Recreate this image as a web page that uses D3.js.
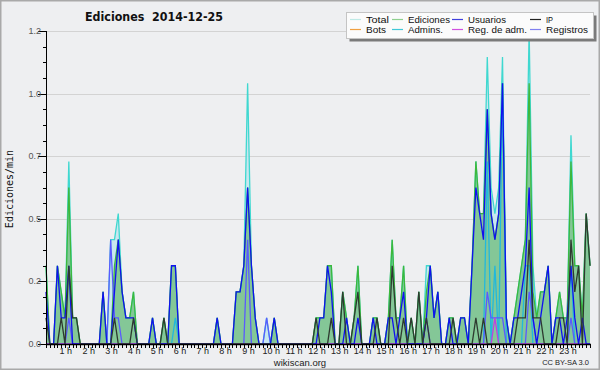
<!DOCTYPE html>
<html><head><meta charset="utf-8">
<script src="https://cdn.jsdelivr.net/npm/d3@7"></script>
<style>body{margin:0;background:#fff}svg{display:block}</style>
</head><body><svg id="c" width="600" height="370"></svg>
<script>
// ---- data (edits per minute, 10-minute bins, 144 slots) ----
const title = "Ediciones  2014-12-25";
const yLabel = "Ediciones/min";
const hourLabels = ["1 h","2 h","3 h","4 h","5 h","6 h","7 h","8 h","9 h","10 h","11 h","12 h","13 h","14 h","15 h","16 h","17 h","18 h","19 h","20 h","21 h","22 h","23 h"];
const hourValues = [1,2,3,4,5,6,7,8,9,10,11,12,13,14,15,16,17,18,19,20,21,22,23];
const yTickValues = [0,0.24,0.48,0.72,0.96,1.2];
const yMax = 1.2;

const total = [
.3,0,0,.3,.2,.1,.7,.1,.1,0,0,0,
0,0,0,.2,0,.4,.4,.5,.2,.1,.1,.2,
0,0,0,0,.1,0,0,.1,0,.3,.3,0,
0,0,0,0,0,0,0,0,0,.1,0,0,
0,0,.2,.2,.3,1.0,.3,.1,0,0,.1,0,
.1,0,0,0,0,0,0,0,0,0,0,.1,
.1,.1,.3,.3,0,0,.2,.1,0,.1,.3,0,
0,0,.1,.1,0,0,.1,.4,.1,.1,.3,0,
.1,0,.2,0,.3,.3,.1,.2,0,0,.1,.1,
0,.1,.1,0,.3,.7,.5,.5,1.1,.6,.5,.6,
1.1,.1,0,.1,.2,.3,.4,1.2,.3,.1,.2,.2,
.3,0,.1,.2,.1,.1,.8,.3,.3,.1,.5,.3];
const ediciones = [
.3,0,0,.3,.2,.1,.6,.1,.1,0,0,0,
0,0,0,.2,0,0,.3,.4,.2,.1,.1,.2,
0,0,0,0,.1,0,0,.1,0,.3,.3,0,
0,0,0,0,0,0,0,0,0,.1,0,0,
0,0,.2,.2,.3,.6,.3,.1,0,0,0,0,
.1,0,0,0,0,0,0,0,0,0,0,.1,
.1,.1,.3,.3,0,0,.2,.1,0,.1,.3,0,
0,0,.1,.1,0,0,.1,.4,.1,.1,.3,0,
.1,0,.2,0,.2,.3,.1,.2,0,0,.1,.1,
0,.1,.1,0,.3,.7,.5,.5,.9,.5,.4,.5,
1.0,.1,0,.1,.2,.3,.4,1.0,.2,.1,.2,.2,
.3,0,.1,.2,.1,.1,.7,.3,.3,.1,.5,.3];
const usuarios = [
.2,0,0,.3,.1,.1,.3,0,0,0,0,0,
0,0,0,.2,0,0,.2,.4,.2,.1,.1,.1,
0,0,0,0,.1,0,0,0,0,.3,.3,0,
0,0,0,0,0,0,0,0,0,.1,0,0,
0,0,.2,.2,.3,.6,.3,.1,0,0,0,0,
.1,0,0,0,0,0,0,0,0,0,0,0,
.1,.1,.3,.2,0,0,0,.1,0,0,.1,0,
0,0,.1,0,0,0,.1,.1,0,.1,.2,0,
0,0,0,0,.1,.3,.1,.2,0,0,.1,0,
0,.1,.1,0,.3,.6,.5,.4,.9,.5,.4,.5,
1.0,.1,0,.1,.1,.2,.3,.6,.1,0,.1,.2,
.3,0,.1,.1,0,.1,.3,.1,0,.1,0,0];
const ip = [
.1,0,0,0,.1,0,.3,.1,.1,0,0,0,
0,0,0,0,0,0,.1,0,0,0,0,.1,
0,0,0,0,0,0,0,.1,0,0,0,0,
0,0,0,0,0,0,0,0,0,0,0,0,
0,0,0,0,0,0,0,0,0,0,0,0,
0,0,0,0,0,0,0,0,0,0,0,.1,
0,0,0,.1,0,0,.2,0,0,.1,.2,0,
0,0,0,.1,0,0,0,.3,.1,0,.1,0,
.1,0,.2,0,.1,0,0,0,0,0,0,.1,
0,0,0,0,0,.1,0,.1,0,0,0,0,
0,0,0,0,.1,.1,.1,.4,.1,.1,.1,0,
0,0,0,.1,.1,0,.4,.2,.3,0,.5,.3];
const bots = [
0,0,0,0,0,0,0,0,0,0,0,0, 0,0,0,0,0,0,0,0,0,0,0,0,
0,0,0,0,0,0,0,0,0,0,0,0, 0,0,0,0,0,0,0,0,0,0,0,0,
0,0,0,0,0,0,0,0,0,0,0,0, 0,0,0,0,0,0,0,0,0,0,0,0,
0,0,0,0,0,0,0,0,0,0,0,0, 0,0,0,0,0,0,0,0,0,0,0,0,
0,0,0,0,0,0,0,0,0,0,0,0, 0,0,0,0,0,0,0,0,0,0,0,0,
0,0,0,0,0,0,0,0,0,0,0,0, 0,0,0,0,0,0,0,0,0,0,0,0];
const admins = [
0,0,0,0,0,0,0,0,0,0,0,0, 0,0,0,0,0,0,0,0,0,0,0,0,
0,0,0,0,0,0,0,0,0,0,.1,0, 0,0,0,0,0,0,0,0,0,0,0,0,
0,0,0,0,0,0,0,0,0,0,0,0, 0,0,0,0,0,0,0,0,0,0,0,0,
0,0,0,0,0,0,0,0,0,0,0,0, 0,0,0,0,0,0,0,0,0,0,0,0,
0,0,0,0,0,0,0,0,0,0,0,0, 0,0,0,0,0,0,0,0,.7,0,.3,0,
1.0,0,0,0,0,0,.3,.3,0,0,0,0, 0,0,0,0,0,0,.3,0,0,0,0,0];
const regAdm = [
0,0,0,0,0,0,0,0,0,0,0,0, 0,0,0,0,0,0,0,0,0,0,0,0,
0,0,0,0,0,0,0,0,0,0,0,0, 0,0,0,0,0,0,0,0,0,0,0,0,
0,0,0,0,0,0,0,0,0,0,0,0, 0,0,0,0,0,0,0,0,0,0,0,0,
0,0,0,0,0,0,0,0,0,0,0,0, 0,0,0,0,0,0,0,0,0,0,0,0,
0,0,0,0,0,0,0,0,0,0,0,0, 0,0,0,0,0,0,0,0,0,0,.1,0,
0,0,0,0,0,0,0,0,0,0,0,0, 0,0,0,0,0,0,0,0,0,0,0,0];
const registros = [
0,0,0,0,0,0,.1,0,0,0,0,0, 0,0,0,0,0,.4,.1,.1,0,0,0,0,
0,0,0,0,0,0,0,0,0,0,0,0, 0,0,0,0,0,0,0,0,0,0,0,0,
0,0,0,0,0,.4,0,0,0,0,.1,0, 0,0,0,0,0,0,0,0,0,0,0,0,
0,0,0,0,0,0,0,0,0,0,0,0, 0,0,0,0,0,0,0,0,0,0,0,0,
0,0,0,0,.1,0,0,0,0,0,0,0, 0,0,0,0,0,0,0,0,.2,.1,.1,.1,
.1,0,0,0,0,0,0,.2,.1,0,0,0, 0,0,0,0,0,0,.1,0,0,0,0,0];

// ---- drawing ----
const svg = d3.select("#c");
const W = 600, H = 370;
const L = 46, R = 590, T = 31, B = 344;
const x = d3.scaleLinear().domain([0, total.length - 1]).range([L, R]);
const y = d3.scaleLinear().domain([0, yMax]).range([B, T]);
const FONT = "Liberation Sans, Arial, sans-serif";

svg.append("rect").attr("x",0).attr("y",0).attr("width",W).attr("height",H).attr("fill","#eeeff1");
svg.append("rect").attr("x",0.75).attr("y",0.75).attr("width",W-1.5).attr("height",H-1.5)
  .attr("fill","none").attr("stroke","#a9a9a9").attr("stroke-width",1.5);

// grid
svg.append("g").selectAll("line").data(yTickValues.filter(d => d > 0)).join("line")
  .attr("x1", L).attr("x2", R).attr("y1", d => Math.round(y(d)) + 0.5).attr("y2", d => Math.round(y(d)) + 0.5)
  .attr("stroke", "#d3d3d3").attr("stroke-width", 1);

const area = d3.area().x((d,i) => x(i)).y0(y(0)).y1(d => y(d));
const line = d3.line().x((d,i) => x(i)).y(d => y(d));

svg.append("path").datum(total).attr("d", area).attr("fill", "#c4e6ee").attr("fill-opacity", 0.9);
svg.append("path").datum(ediciones).attr("d", area).attr("fill", "#3fa83f").attr("fill-opacity", 0.5);

const lines = [
  {d: total, c: "#3fd8d0", w: 1.3},
  {d: ediciones, c: "#3cb83c", w: 1.3},
  {d: bots, c: "#f0a030", w: 1.2},
  {d: admins, c: "#22b8dc", w: 1.3},
  {d: registros, c: "#5a5aff", w: 1.3},
  {d: regAdm, c: "#c040e0", w: 1.3},
  {d: usuarios, c: "#1010f0", w: 1.3},
  {d: ip, c: "#2e3a30", w: 1.3}
];
lines.forEach(s => {
  svg.append("path").datum(s.d).attr("d", line).attr("fill", "none")
    .attr("stroke", s.c).attr("stroke-width", s.w).attr("stroke-linejoin", "miter");
});

// y axis
const yAxisG = svg.append("g");
yAxisG.append("line").attr("x1", L + 0.5).attr("x2", L + 0.5).attr("y1", T).attr("y2", B + 1).attr("stroke", "#000");
const minor = d3.range(0, yMax + 1e-9, 0.06);
yAxisG.selectAll("line.mn").data(minor).join("line").attr("class","mn")
  .attr("x1", L - 3).attr("x2", L).attr("y1", d => Math.round(y(d)) + 0.5).attr("y2", d => Math.round(y(d)) + 0.5)
  .attr("stroke", "#000");
yAxisG.selectAll("line.mj").data(yTickValues).join("line").attr("class","mj")
  .attr("x1", L - 8).attr("x2", L).attr("y1", d => Math.round(y(d)) + 0.5).attr("y2", d => Math.round(y(d)) + 0.5)
  .attr("stroke", "#000");
yAxisG.selectAll("text").data(yTickValues).join("text")
  .attr("x", L - 5).attr("y", d => y(d) + 3).attr("text-anchor", "end")
  .attr("font-family", FONT).attr("font-size", 9).attr("fill", "#555")
  .text(d => d3.format(".1f")(d));

// x axis
const xAxisG = svg.append("g");
xAxisG.append("line").attr("x1", L).attr("x2", R + 1).attr("y1", B + 0.5).attr("y2", B + 0.5).attr("stroke", "#000").attr("stroke-width", 1.5);
xAxisG.selectAll("line.t").data(d3.range(total.length)).join("line").attr("class","t")
  .attr("x1", (d,i) => Math.round(x(i)) + 0.5).attr("x2", (d,i) => Math.round(x(i)) + 0.5)
  .attr("y1", B).attr("y2", B + 4).attr("stroke", "#000");
xAxisG.selectAll("text").data(hourValues).join("text")
  .attr("x", (d) => x(d * 6) - 3).attr("y", B + 10).attr("text-anchor", "middle")
  .attr("font-family", FONT).attr("font-size", 9).attr("fill", "#222")
  .text((d,i) => hourLabels[i]);

// y label
svg.append("text").attr("transform", `translate(13,189) rotate(-90)`)
  .attr("text-anchor", "middle").attr("font-family", "DejaVu Sans Mono, monospace").attr("font-size", 10).attr("fill", "#111")
  .text(yLabel);

// title
svg.append("text").attr("x", 85).attr("y", 21)
  .attr("font-family", "DejaVu Sans, sans-serif").attr("font-weight", "bold").attr("font-size", 12.5).attr("fill", "#111")
  .attr("textLength", 138).attr("lengthAdjust", "spacingAndGlyphs")
  .style("white-space","pre")
  .text(title);

// footer
svg.append("text").attr("x", 300).attr("y", 366).attr("text-anchor", "middle")
  .attr("font-family", FONT).attr("font-size", 9.5).attr("fill", "#222").text("wikiscan.org");
svg.append("text").attr("x", 589).attr("y", 365).attr("text-anchor", "end")
  .attr("font-family", FONT).attr("font-size", 7.5).attr("fill", "#222").text("CC BY-SA 3.0");

// legend
const legendItems = [
  {n: "Total", c: "#bfeae6", w: 23}, {n: "Ediciones", c: "#8fd08f", w: 42}, {n: "Usuarios", c: "#4040dd", w: 38}, {n: "IP", c: "#222", w: 7},
  {n: "Bots", c: "#f0a040", w: 20}, {n: "Admins.", c: "#40c8d8", w: 35}, {n: "Reg. de adm.", c: "#d050e0", w: 59}, {n: "Registros", c: "#8080f0", w: 42}
];
const lg = svg.append("g");
lg.append("rect").attr("x", 349.5).attr("y", 15.5).attr("width", 247).attr("height", 26).attr("fill", "#7a7a7a");
lg.append("rect").attr("x", 346.5).attr("y", 12.5).attr("width", 247).attr("height", 26).attr("fill", "#fbfbfb").attr("stroke", "#c4c4c4");
const colX = [350, 392, 452, 530];
legendItems.forEach((it, k) => {
  const cx = colX[k % 4], cy = k < 4 ? 19.5 : 29.5;
  lg.append("line").attr("x1", cx).attr("x2", cx + 11).attr("y1", cy).attr("y2", cy).attr("stroke", it.c).attr("stroke-width", 1.2);
  lg.append("text").attr("x", cx + 16).attr("y", k < 4 ? 22.8 : 33.3).attr("font-family", FONT).attr("font-size", 9.5).attr("fill", "#111")
    .attr("textLength", it.w).attr("lengthAdjust", "spacingAndGlyphs").text(it.n);
});
</script></body></html>
